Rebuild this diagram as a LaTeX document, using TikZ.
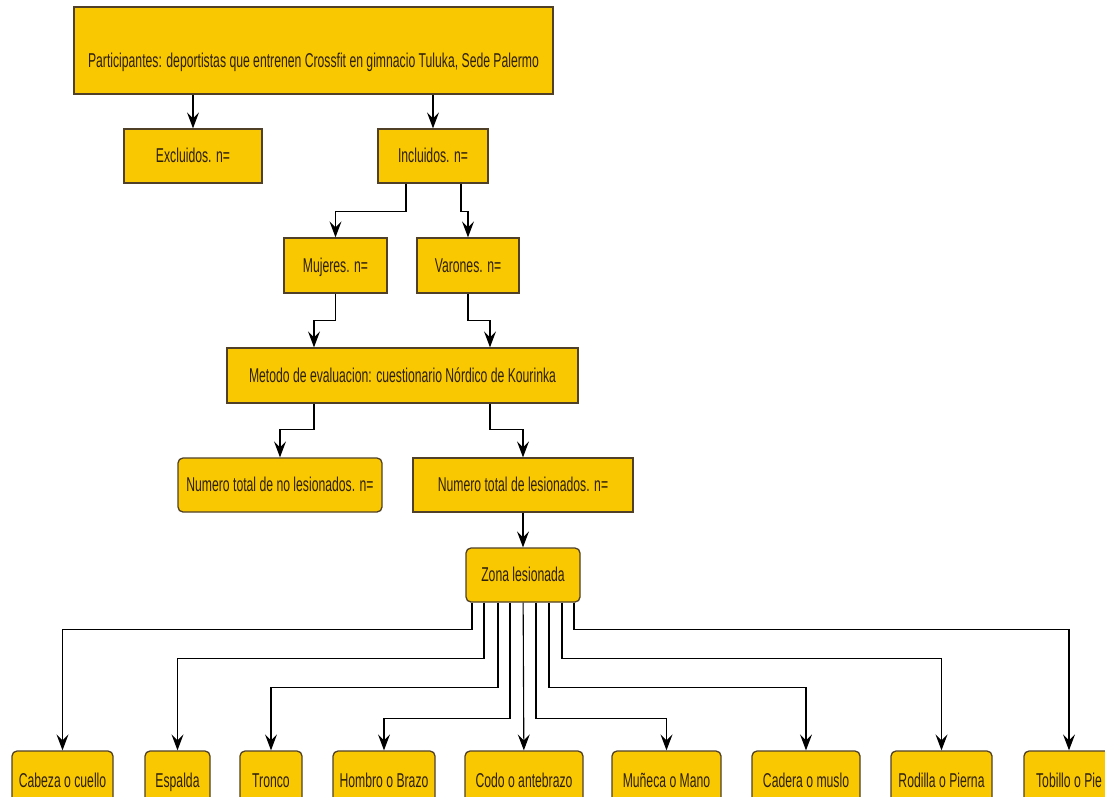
\documentclass[tikz,border=0pt]{standalone}
\usepackage{fontspec}
\setmainfont{Liberation Sans}[FakeStretch=0.61]
\usetikzlibrary{arrows.meta}
\definecolor{boxfill}{RGB}{250,200,0}
\definecolor{boxline}{RGB}{80,64,40}
\definecolor{boxtext}{RGB}{45,32,8}

\begin{document}
\begin{tikzpicture}[x=1pt,y=-1pt,every node/.style={draw=boxline,fill=boxfill,line width=1.3pt,text=boxtext,inner sep=0pt,align=center,font=\fontsize{20}{22}\selectfont,minimum height=54pt,text height=16pt,text depth=3pt},
    roundbox/.style={rounded corners=5pt},
    zonebox/.style={roundbox,minimum height=60pt},
    link/.style={-{Stealth[length=16pt,width=12pt,inset=6pt]},line width=1.1pt,black}]
      \useasboundingbox (0,0) rectangle (1105,796);
      \clip (0,0) rectangle (1105,796);
      % upper part
      \node[minimum width=479pt,minimum height=87pt,text height=33pt,text depth=0pt] (part) at (313.5,50.5) {Participantes: deportistas que entrenen Crossfit en gimnacio Tuluka, Sede Palermo};
      \node[minimum width=138pt] (excl) at (193,156) {Excluidos. n=};
      \node[minimum width=110pt] (incl) at (433,156) {Incluidos. n=};
      \node[minimum width=103pt,minimum height=55pt] (muj) at (335.5,265.5) {Mujeres. n=};
      \node[minimum width=102pt,minimum height=55pt] (var) at (468,265.5) {Varones. n=};
      \node[minimum width=351pt,minimum height=55pt] (metodo) at (402.5,375.5) {Metodo de evaluacion: cuestionario N\'ordico de Kourinka};
      \node[roundbox,minimum width=204pt] (nolesion) at (280,485) {Numero total de no lesionados. n=};
      \node[minimum width=220pt] (lesion) at (523,485) {Numero total de lesionados. n=};
      \node[roundbox,minimum width=114pt] (zona) at (523,575) {Zona lesionada};
      % injured zones
      \node[zonebox,minimum width=101pt] (cabeza) at (62.5,781) {Cabeza o cuello};
      \node[zonebox,minimum width=65pt] (espalda) at (177.5,781) {Espalda};
      \node[zonebox,minimum width=62pt] (tronco) at (271,781) {Tronco};
      \node[zonebox,minimum width=102pt] (hombro) at (384,781) {Hombro o Brazo};
      \node[zonebox,minimum width=118pt] (codo) at (524,781) {Codo o antebrazo};
      \node[zonebox,minimum width=109pt] (muneca) at (666.5,781) {Mu\~neca o Mano};
      \node[zonebox,minimum width=108pt] (cadera) at (806,781) {Cadera o muslo};
      \node[zonebox,minimum width=101pt] (rodilla) at (941.5,781) {Rodilla o Pierna};
      \node[zonebox,minimum width=90pt] (tobillo) at (1069,781) {Tobillo o Pie};
      % connectors
      \draw[link] (excl.north |- part.south) -- (excl.north);
      \draw[link] (incl.north |- part.south) -- (incl.north);
      \draw[link] ([xshift=-27pt]incl.south) -- ++(0,28) -| (muj.north);
      \draw[link] ([xshift=28pt]incl.south) -- ++(0,28) -| (var.north);
      \draw[link] (muj.south) -- ++(0,27) -| ([xshift=-88.5pt]metodo.north);
      \draw[link] (var.south) -- ++(0,27) -| ([xshift=87.5pt]metodo.north);
      \draw[link] ([xshift=-88.5pt]metodo.south) -- ++(0,26) -| (nolesion.north);
      \draw[link] ([xshift=87.5pt]metodo.south) -- ++(0,26) -| (lesion.north);
      \draw[link] (lesion) -- (zona);
      \draw[link] (zona) -- (codo);
      \foreach \zname/\dx/\dy in {cabeza/-51/27,espalda/-39/56,tronco/-25/85,hombro/-13/116,muneca/13/116,cadera/26/85,rodilla/39/56,tobillo/51/27}
        \draw[link] ([xshift=\dx pt]zona.south) -- ++(0,\dy) -| (\zname.north);
    \end{tikzpicture}
\end{document}
